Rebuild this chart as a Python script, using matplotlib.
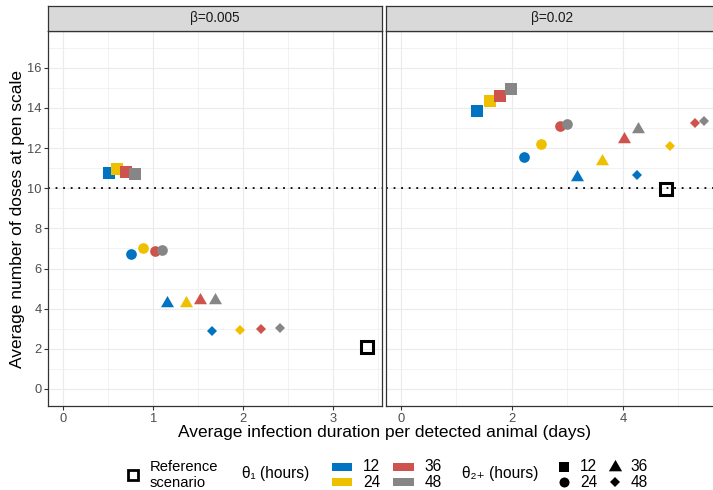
import matplotlib
matplotlib.use("Agg")
import matplotlib.pyplot as plt
from matplotlib.patches import Rectangle
from matplotlib.path import Path
import numpy as np

# ---------------- data ----------------
theta1_hours = [12, 24, 36, 48]          # colour
theta2_hours = [12, 24, 36, 48]          # shape
theta1_colors = ["#0073C2", "#EFC000", "#CD534C", "#868686"]
facet_labels = ["\u03b2=0.005", "\u03b2=0.02"]

# rows: theta2+ (12, 24, 36, 48); columns: theta1 (12, 24, 36, 48)
duration_b005 = [[0.51, 0.60, 0.69, 0.80],
                 [0.75, 0.88, 1.02, 1.10],
                 [1.15, 1.36, 1.52, 1.68],
                 [1.65, 1.96, 2.20, 2.41]]
doses_b005 = [[10.75, 10.95, 10.80, 10.70],
              [6.72, 7.01, 6.87, 6.92],
              [4.28, 4.28, 4.41, 4.44],
              [2.90, 2.92, 2.99, 3.02]]
duration_b02 = [[1.37, 1.60, 1.78, 1.98],
                [2.22, 2.52, 2.86, 2.99],
                [3.18, 3.62, 4.02, 4.27],
                [4.25, 4.84, 5.30, 5.46]]
doses_b02 = [[13.86, 14.36, 14.61, 14.93],
             [11.54, 12.19, 13.08, 13.18],
             [10.58, 11.37, 12.44, 12.94],
             [10.68, 12.09, 13.25, 13.36]]
reference_duration = [3.37, 4.78]
reference_doses = [2.07, 9.95]
dose_threshold = 10
y_limits = [0, 17]

# ---------------- style ----------------
plt.rcParams["font.family"] = ["Liberation Sans", "DejaVu Sans"]
W, H = 713, 490
fig = plt.figure(figsize=(W / 100, H / 100), dpi=100)

tri = Path([(0, 1), (-0.866, -0.5), (0.866, -0.5), (0, 1)],
           [Path.MOVETO, Path.LINETO, Path.LINETO, Path.CLOSEPOLY])
shape_markers = ["s", "o", tri, "D"]
shape_sizes = [8.2, 7.7, 10.8, 4.7]

def fx(px):
    return px / W

def fy(py):
    return 1 - py / H

panel_top, panel_bot = 30.7, 406.0
panel_w = 333.4
panel_lefts = [48.3, 385.7]
strip_top = 5.7

GRID = "#EBEBEB"
DARK = "#333333"

panels = [(duration_b005, doses_b005, [0, 1, 2, 3]),
          (duration_b02, doses_b02, [0, 2, 4])]

for p, (dur, dose, xt) in enumerate(panels):
    left = panel_lefts[p]
    ax = fig.add_axes([fx(left), fy(panel_bot), panel_w / W,
                       (panel_bot - panel_top) / H])
    ax.set_xticks(xt)
    step = xt[1] - xt[0]
    ax.set_xticks([v + step / 2 for v in ([xt[0] - step] + xt)], minor=True)
    ax.set_yticks(range(0, 17, 2))
    ax.set_yticks(range(-1, 18, 2), minor=True)
    xmax = max(max(max(r) for r in dur), reference_duration[p])
    ax.set_xlim(-0.05 * xmax, xmax * 1.05)
    yr = y_limits[1] - y_limits[0]
    ax.set_ylim(y_limits[0] - 0.05 * yr, y_limits[1] + 0.05 * yr)
    ax.grid(which="major", color=GRID, lw=0.85)
    ax.grid(which="minor", color=GRID, lw=0.45)
    ax.set_axisbelow(True)
    ax.tick_params(which="minor", length=0)
    ax.tick_params(which="major", length=2.75, width=0.8, color=DARK,
                   labelsize=9.3, labelcolor="#4D4D4D", pad=2)
    if p == 1:
        ax.set_yticklabels([])
        ax.tick_params(axis="y", length=0)
    for s in ax.spines.values():
        s.set_color(DARK)
        s.set_linewidth(0.9)

    ax.axhline(dose_threshold, color="black", lw=1.3, ls=(0, (1, 3.2)),
               zorder=2)

    for i in range(len(theta2_hours)):
        for j in range(len(theta1_hours)):
            ax.plot(dur[i][j], dose[i][j], marker=shape_markers[i],
                    ms=shape_sizes[i], color=theta1_colors[j], mew=0,
                    ls="none", zorder=3)
    ax.plot(reference_duration[p], reference_doses[p], marker="s", ms=8.0,
            mfc="none", mec="black", mew=2.2, ls="none", zorder=4)

    # strip
    sax = fig.add_axes([fx(left), fy(panel_top), panel_w / W,
                        (panel_top - strip_top) / H])
    sax.set_facecolor("#D9D9D9")
    sax.set_xticks([])
    sax.set_yticks([])
    for s in sax.spines.values():
        s.set_color(DARK)
        s.set_linewidth(0.9)
    sax.text(0.5, 0.5, facet_labels[p], transform=sax.transAxes,
             ha="center", va="center", fontsize=9.8, color="#1A1A1A")

# axis titles
fig.text(fx(384), fy(432.5), "Average infection duration per detected animal (days)",
         ha="center", va="center", fontsize=12.5, color="black")
fig.text(fx(18), fy(219), "Average number of doses at pen scale",
         ha="center", va="center", rotation=90, fontsize=12.5, color="black")

# ---------------- legend (manual, pixel coordinates) ----------------
lax = fig.add_axes([0, 0, 1, 1])
lax.set_xlim(0, W)
lax.set_ylim(H, 0)
lax.axis("off")
LFS = 10.6

lax.plot(133.3, 474.5, marker="s", ms=7.2, mfc="none", mec="black",
         mew=2.0, ls="none")
lax.text(149.3, 466.7, "Reference", va="center", ha="left", fontsize=LFS)
lax.text(149.3, 482.7, "scenario", va="center", ha="left", fontsize=LFS)

lax.text(241.7, 473.5, "\u03b8\u2081 (hours)", va="center", ha="left",
         fontsize=LFS + 0.6)
box_x = [331.7, 393.3]
row_y = [466.7, 482.0]
for j, lab in enumerate(theta1_hours):
    col, row = j // 2, j % 2
    lax.add_patch(Rectangle((box_x[col], row_y[row] - 4.2), 20.7, 8.4,
                            color=theta1_colors[j], lw=0))
    lax.text(box_x[col] + 31.5, row_y[row], str(lab), va="center",
             ha="left", fontsize=LFS + 0.6)

lax.text(461.7, 473.5, "\u03b8\u2082\u208a (hours)", va="center", ha="left",
         fontsize=LFS + 0.6)
shp_x = [564.3, 615.0]
leg_sizes = [7.0, 7.2, 11.0, 4.6]
for i, lab in enumerate(theta2_hours):
    col, row = i // 2, i % 2
    lax.plot(shp_x[col], row_y[row], marker=shape_markers[i],
             ms=leg_sizes[i], color="black", mew=0, ls="none")
    lax.text(shp_x[col] + 15.7, row_y[row], str(lab), va="center",
             ha="left", fontsize=LFS + 0.6)

fig.savefig("out.png", dpi=100)
